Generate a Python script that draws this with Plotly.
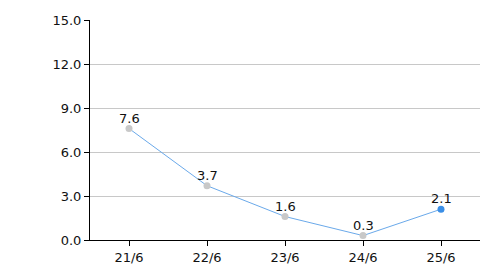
import plotly.graph_objects as go

categories = ["21/6", "22/6", "23/6", "24/6", "25/6"]
values = [7.6, 3.7, 1.6, 0.3, 2.1]
labels = ["7.6", "3.7", "1.6", "0.3", "2.1"]
y_ticks = [0, 3, 6, 9, 12, 15]
y_tick_text = ["0.0", "3.0", "6.0", "9.0", "12.0", "15.0"]

marker_colors = ["#c8c8c8"] * (len(values) - 1) + ["#3a8ee6"]

fig = go.Figure()
fig.add_trace(go.Scatter(
    x=categories, y=values, mode="lines+markers",
    line=dict(color="#6aa9ea", width=1),
    marker=dict(color=marker_colors, size=7),
    cliponaxis=False, showlegend=False,
))
for c, v, t in zip(categories, values, labels):
    fig.add_annotation(
        x=c, y=v, text=t, showarrow=False, yanchor="bottom", yshift=1,
        font=dict(family="DejaVu Sans", size=13, color="#111111"),
    )
fig.update_layout(
    width=500, height=270,
    margin=dict(l=90, r=20, t=20, b=30, autoexpand=False),
    plot_bgcolor="white", paper_bgcolor="white",
    font=dict(family="DejaVu Sans", size=13, color="#111111"),
)
fig.update_xaxes(
    type="category", showline=True, linecolor="black", linewidth=1,
    ticks="outside", ticklen=5, tickcolor="black", showgrid=False,
    range=[-0.5, len(categories) - 0.5], automargin=False,
)
fig.update_yaxes(
    range=[0, 15], tickvals=y_ticks, ticktext=y_tick_text,
    showline=True, linecolor="black", linewidth=1,
    ticks="outside", ticklen=5, tickcolor="black",
    showgrid=True, gridcolor="#c8c8c8", zeroline=False, automargin=False,
)
fig.write_html("out.html")
